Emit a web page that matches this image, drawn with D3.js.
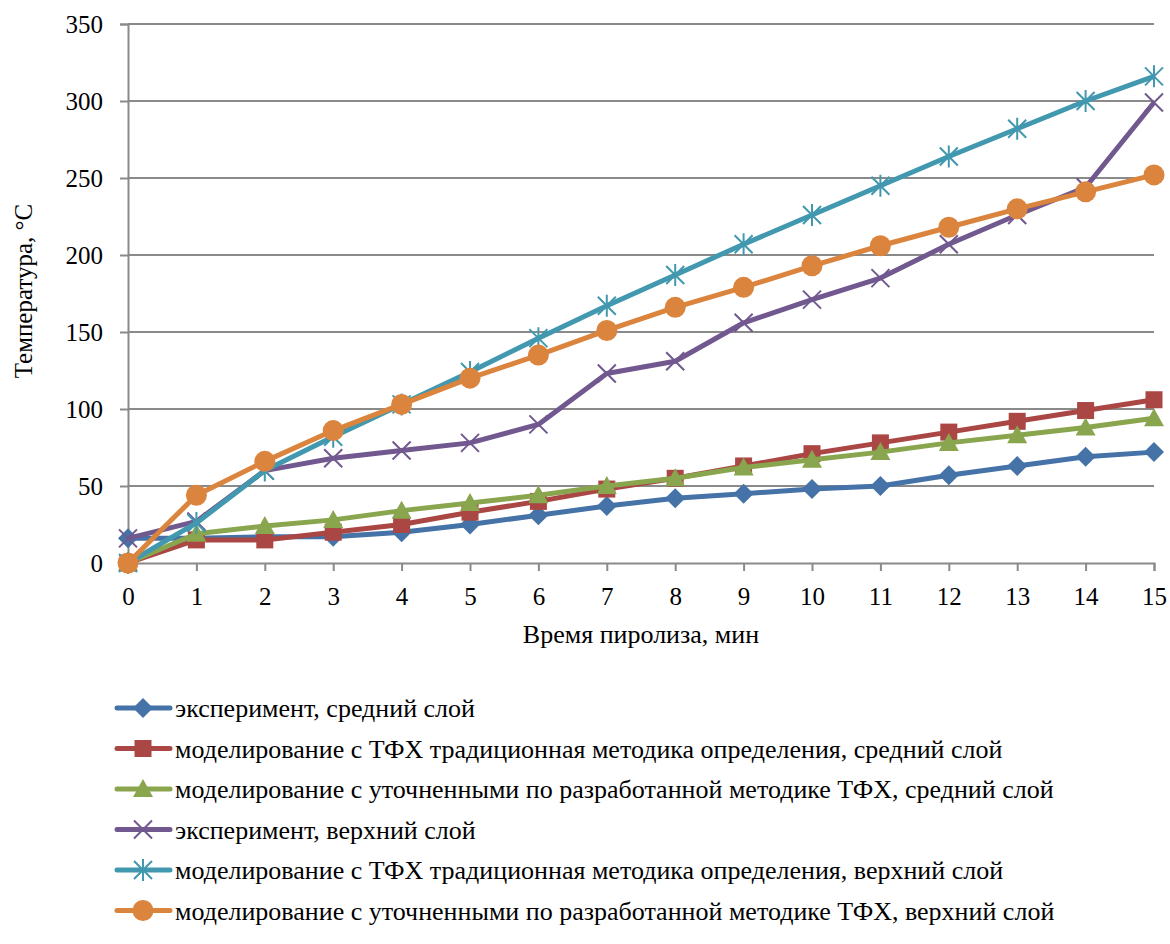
<!DOCTYPE html>
<html>
<head>
<meta charset="utf-8">
<script src="https://cdn.jsdelivr.net/npm/d3@7"></script>
<style>
  body { margin: 0; background: #fff; }
</style>
</head>
<body>
<div class="chart"></div>
<script>
// data
var minutes = [0, 1, 2, 3, 4, 5, 6, 7, 8, 9, 10, 11, 12, 13, 14, 15];
var yTicks = [0, 50, 100, 150, 200, 250, 300, 350];

var expMid   = [16, 16, 17, 17, 20, 25, 31, 37, 42, 45, 48, 50, 57, 63, 69, 72];
var tradMid  = [0, 15, 15, 20, 25, 33, 40, 48, 55, 63, 71, 78, 85, 92, 99, 106];
var refMid   = [0, 19, 24, 28, 34, 39, 44, 50, 55, 62, 67, 72, 78, 83, 88, 94];
var expTop   = [16, 27, 60, 68, 73, 78, 90, 123, 131, 156, 171, 185, 207, 226, 244, 299];
var tradTop  = [0, 26, 60, 82, 103, 124, 146, 167, 187, 207, 226, 245, 264, 282, 300, 316];
var refTop   = [0, 44, 66, 86, 103, 120, 135, 151, 166, 179, 193, 206, 218, 230, 241, 252];

var seriesNames = [
  "эксперимент, средний слой",
  "моделирование с ТФХ традиционная методика определения, средний слой",
  "моделирование с уточненными по разработанной методике ТФХ, средний слой",
  "эксперимент, верхний слой",
  "моделирование с ТФХ традиционная методика определения, верхний слой",
  "моделирование с уточненными по разработанной методике ТФХ, верхний слой"
];
var seriesColors = ["#4572A7", "#AA4643", "#89A54E", "#71588F", "#4198AF", "#DB843D"];
var seriesMarkers = ["diamond", "square", "triangle", "cross", "star", "circle"];

var seriesValues = [expMid, tradMid, refMid, expTop, tradTop, refTop];

var fontName = "Times New Roman";

// font on every text element
function serifText(sel, size) {
  return sel
    .style("font-family", `"${fontName}"`)
    .style("font-size", size);
}

// chart set up
var svgWidth = 1170;
var svgHeight = 944;
var margin = { top: 24, right: 16, bottom: 381, left: 128 };
var width = svgWidth - margin.left - margin.right;
var height = svgHeight - margin.top - margin.bottom;

var svg = d3.select(".chart")
  .append("svg")
  .attr("width", svgWidth)
  .attr("height", svgHeight);

var chartGroup = svg.append("g")
  .attr("transform", `translate(${margin.left}, ${margin.top})`);

var xScale = d3.scaleLinear().domain([0, 15]).range([0, width]);
var yScale = d3.scaleLinear().domain([0, 350]).range([height, 0]);

// y axis
var leftAxis = d3.axisLeft(yScale).tickValues(yTicks).tickSize(8).tickPadding(17);
var yAxisG = chartGroup.append("g").call(leftAxis).attr("font-family", null).attr("font-size", null);
yAxisG.select(".domain").attr("stroke", "#8a8a8a").attr("stroke-width", 2);
yAxisG.selectAll(".tick line").attr("stroke", "#8a8a8a").attr("stroke-width", 2);
serifText(yAxisG.selectAll(".tick text"), "25px");

// gridlines
chartGroup.append("g")
  .selectAll("line")
  .data(yTicks.filter(d => d > 0))
  .enter()
  .append("line")
  .attr("x1", 0)
  .attr("x2", width)
  .attr("y1", d => yScale(d))
  .attr("y2", d => yScale(d))
  .attr("stroke", "#8a8a8a")
  .attr("stroke-width", 2);

// x axis
var bottomAxis = d3.axisBottom(xScale).tickValues(minutes).tickSize(8).tickPadding(16);
var xAxisG = chartGroup.append("g")
  .attr("transform", `translate(0, ${height})`)
  .call(bottomAxis)
  .attr("font-family", null)
  .attr("font-size", null);
xAxisG.select(".domain").attr("stroke", "#8a8a8a").attr("stroke-width", 2);
xAxisG.selectAll(".tick line").attr("stroke", "#8a8a8a").attr("stroke-width", 2);
serifText(xAxisG.selectAll(".tick text"), "25px");

// marker drawing
function drawMarker(g, type, color) {
  if (type === "diamond") {
    g.append("path").attr("d", "M0,-10L10,0L0,10L-10,0Z").attr("fill", color);
  } else if (type === "square") {
    g.append("rect").attr("x", -8.5).attr("y", -8.5).attr("width", 17).attr("height", 17).attr("fill", color);
  } else if (type === "triangle") {
    g.append("path").attr("d", "M0,-10L10,8L-10,8Z").attr("fill", color);
  } else if (type === "cross") {
    g.append("path").attr("d", "M-9,-9L9,9M-9,9L9,-9").attr("stroke", color).attr("stroke-width", 2);
  } else if (type === "star") {
    g.append("path").attr("d", "M-9,-9L9,9M-9,9L9,-9M0,-11L0,11").attr("stroke", color).attr("stroke-width", 2);
  } else if (type === "circle") {
    g.append("circle").attr("r", 10.5).attr("fill", color);
  }
}

var line = d3.line()
  .x((d, i) => xScale(minutes[i]))
  .y(d => yScale(d));

seriesValues.forEach(function(vals, s) {
  var g = chartGroup.append("g");
  g.append("path")
    .attr("d", line(vals))
    .attr("fill", "none")
    .attr("stroke", seriesColors[s])
    .attr("stroke-width", 5)
    .attr("stroke-linejoin", "round");
  vals.forEach(function(v, i) {
    var m = g.append("g").attr("transform", `translate(${xScale(minutes[i])}, ${yScale(v)})`);
    drawMarker(m, seriesMarkers[s], seriesColors[s]);
  });
});

// axis labels
serifText(svg.append("text"), "25px")
  .attr("transform", "translate(32, 291) rotate(-90)")
  .attr("text-anchor", "middle")
  .text("Температура, °С");

serifText(svg.append("text"), "26px")
  .attr("x", margin.left + width / 2)
  .attr("y", 643)
  .attr("text-anchor", "middle")
  .text("Время пиролиза, мин");

// legend
var legend = svg.append("g").attr("transform", "translate(117, 708)");
seriesNames.forEach(function(name, s) {
  var row = legend.append("g").attr("transform", `translate(0, ${s * 40.5})`);
  row.append("line")
    .attr("x1", 0).attr("x2", 53)
    .attr("stroke", seriesColors[s])
    .attr("stroke-width", 5)
    .attr("stroke-linecap", "round");
  drawMarker(row.append("g").attr("transform", "translate(26, 0)"), seriesMarkers[s], seriesColors[s]);
  serifText(row.append("text"), "26px")
    .attr("x", 58)
    .attr("y", 9)
    .text(name);
});
</script>
</body>
</html>
